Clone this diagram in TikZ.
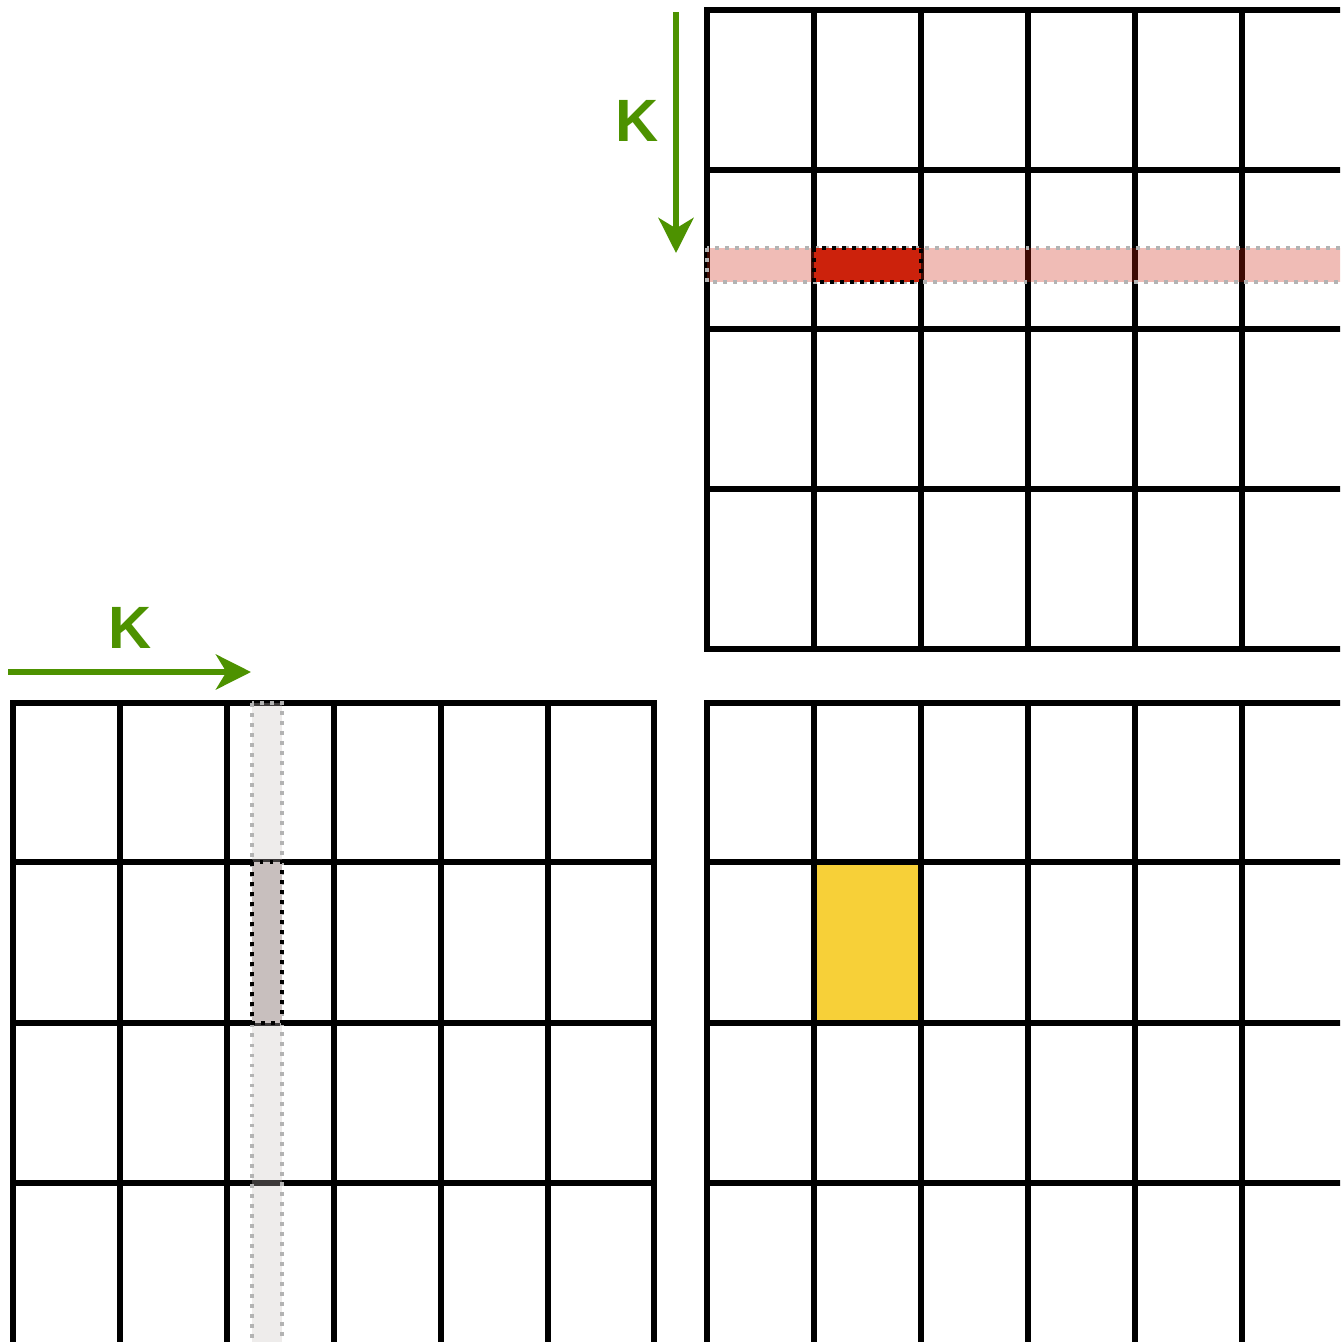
\documentclass[tikz,border=0pt]{standalone}
\usepackage{fontspec}
\setsansfont{Liberation Sans}
\usetikzlibrary{arrows.meta}
\definecolor{kgreen}{RGB}{77,146,0}
\definecolor{cellred}{RGB}{204,34,12}
\definecolor{cellgray}{RGB}{200,191,190}
\definecolor{cellyellow}{RGB}{247,208,56}
\definecolor{dotgray}{RGB}{179,179,179}

\begin{document}
\begin{tikzpicture}[x=0.02cm, y=-0.02cm,
  gridline/.style={line width=3.2pt, black, line cap=rect},
  karrow/.style={kgreen, line width=3pt, -{Stealth[length=20pt, width=20pt, inset=6pt]}},
  klabel/.style={text=kgreen, font=\sffamily\bfseries\fontsize{34}{40}\selectfont},
  band/.style={dotgray, line width=2.2pt, dash pattern=on 2.2pt off 3.5pt},
  pick/.style={black, line width=2.2pt, dash pattern=on 2.2pt off 3.5pt}]
  \useasboundingbox (0,0) rectangle (1340,1342);
  \clip (0,0) rectangle (1340,1342);

  \fill[cellyellow] (814,862) rectangle (921,1023);

  \foreach \x in {707,814,...,1349} \draw[gridline] (\x,10) -- (\x,649);
  \foreach \y in {10,170,329,489,649} \draw[gridline] (707,\y) -- (1360,\y);

  \foreach \x in {13,120,227,334,441,548,654} \draw[gridline] (\x,703) -- (\x,1360);
  \foreach \y in {703,862,1023,1183} \draw[gridline] (13,\y) -- (654,\y);

  \foreach \x in {707,814,...,1349} \draw[gridline] (\x,703) -- (\x,1360);
  \foreach \y in {703,862,1023,1183} \draw[gridline] (707,\y) -- (1360,\y);

  \fill[cellred, opacity=0.3] (707,248) rectangle (1360,282);
  \draw[band] (707,248) rectangle (1360,282);
  \fill[cellred] (814,248) rectangle (921,282);
  \draw[pick] (814,248) rectangle (921,282);

  \fill[cellgray, opacity=0.3] (252,703) rectangle (282,1360);
  \draw[band] (252,703) rectangle (282,1360);
  \fill[cellgray] (252,862) rectangle (282,1023);
  \draw[pick] (252,862) rectangle (282,1023);

  \coordinate (kbtop) at (676,12);
  \coordinate (kbbot) at (676,253);
  \draw[karrow] (kbtop) -- (kbbot);
  \node[klabel] (kb) at (637,121) {K};

  \coordinate (kastart) at (8,672);
  \coordinate (kaend) at (251,672);
  \draw[karrow] (kastart) -- (kaend);
  \node[klabel] (ka) at (130,628) {K};
\end{tikzpicture}
\end{document}
